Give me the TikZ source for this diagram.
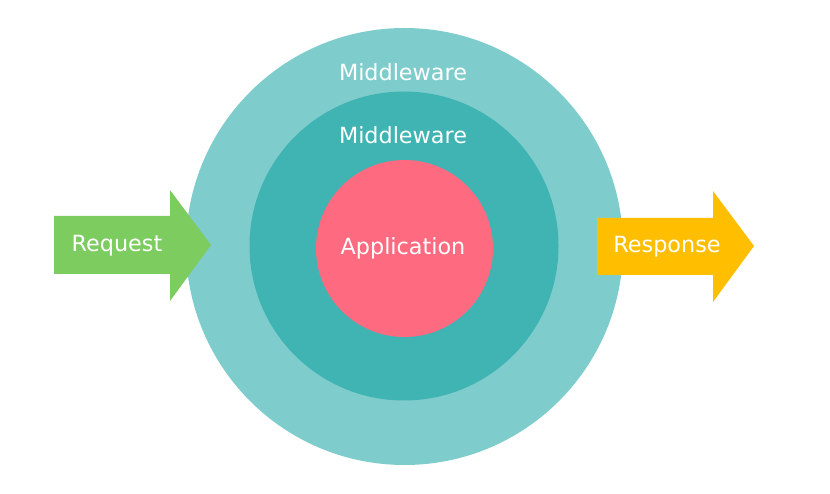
\documentclass[tikz,border=0pt]{standalone}
\usepackage{fontspec}
\setmainfont{DejaVu Sans}
\definecolor{outerc}{HTML}{7ECDCC}
\definecolor{midc}{HTML}{40B3B3}
\definecolor{innerc}{HTML}{FE6B81}
\definecolor{greenc}{HTML}{7DCC60}
\definecolor{yellowc}{HTML}{FFBE00}
\tikzset{
  lbl/.style={text=white, font=\fontsize{22.3}{25}\selectfont, inner sep=0pt},
  disc/.style={circle, draw=none, inner sep=0pt},
}
\begin{document}
\begin{tikzpicture}[x=1pt,y=-1pt]
\useasboundingbox (0,0) rectangle (830,494);
\node[disc, fill=outerc, minimum size=437pt] (outer) at (404.5,246.5) {};
\node[disc, fill=midc, minimum size=309pt] (mid) at (404,246) {};
\node[disc, fill=innerc, minimum size=177pt] (inner) at (404.5,248.5) {};
\fill[greenc] (54,216) -- (170,216) -- (170,190) -- (211,245) -- (170,301) -- (170,274) -- (54,274) -- cycle;
\fill[yellowc] (597,218) -- (713,218) -- (713,191) -- (754,246) -- (713,302) -- (713,275) -- (597,275) -- cycle;
\node[lbl] (m1) at (403,72) {Middleware};
\node[lbl] (m2) at (403,135) {Middleware};
\node[lbl] (app) at (403,248) {Application};
\node[lbl] (req) at (117,246) {Request};
\node[lbl] (resp) at (667,247) {Response};
\end{tikzpicture}
\end{document}
